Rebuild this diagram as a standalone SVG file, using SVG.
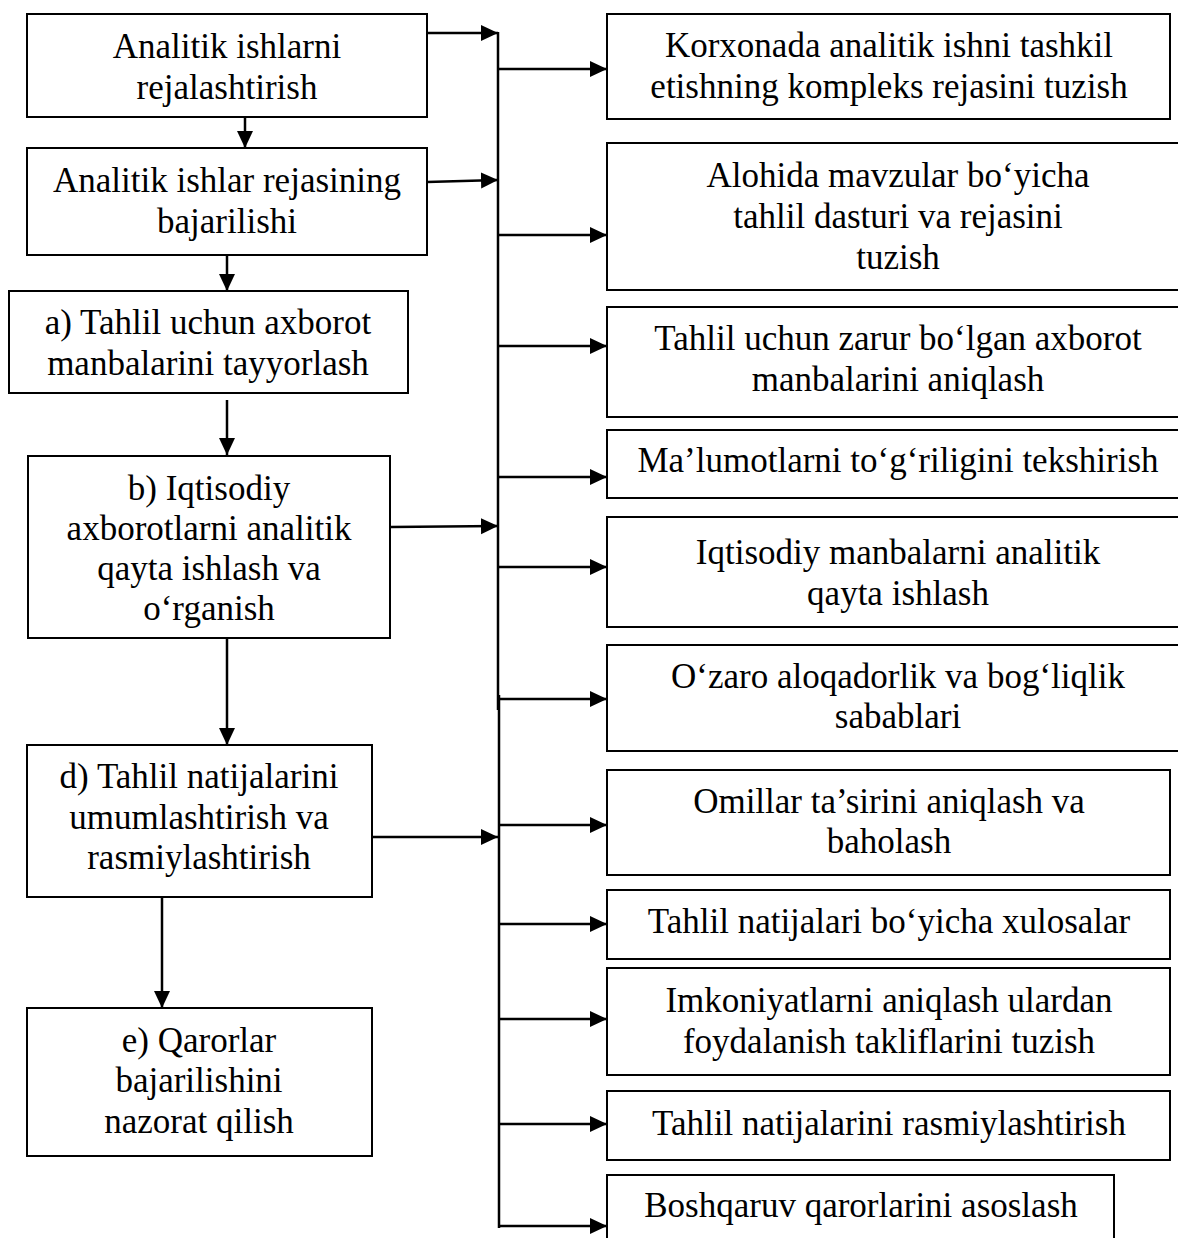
<svg xmlns="http://www.w3.org/2000/svg" width="1178" height="1238" viewBox="0 0 1178 1238">
<style>
.box{fill:#fff;stroke:#000;stroke-width:2}
.t{font-family:"Liberation Serif","Times New Roman",serif;font-size:35px;fill:#000;text-anchor:middle}
.c{fill:none;stroke:#000;stroke-width:2.5}
</style>
<defs>
<marker id="ah" markerUnits="userSpaceOnUse" markerWidth="18" markerHeight="18" refX="17" refY="8" orient="auto">
<path d="M0,0 L17,8 L0,16 z" fill="#000"/>
</marker>
</defs>
<rect width="1178" height="1238" fill="#fff"/>
<g id="left-a">
<rect class="box" x="27" y="14" width="400" height="103"/>
<text class="t" x="227" y="58">Analitik ishlarni</text>
<text class="t" x="227" y="99">rejalashtirish</text>
</g>
<g id="left-b">
<rect class="box" x="27" y="148" width="400" height="107"/>
<text class="t" x="227" y="192">Analitik ishlar rejasining</text>
<text class="t" x="227" y="233">bajarilishi</text>
</g>
<g id="left-c">
<rect class="box" x="9" y="291" width="399" height="102"/>
<text class="t" x="208" y="334">a) Tahlil uchun axborot</text>
<text class="t" x="208" y="375">manbalarini tayyorlash</text>
</g>
<g id="left-d">
<rect class="box" x="28" y="456" width="362" height="182"/>
<text class="t" x="209" y="500">b) Iqtisodiy</text>
<text class="t" x="209" y="540">axborotlarni analitik</text>
<text class="t" x="209" y="580">qayta ishlash va</text>
<text class="t" x="209" y="620">o‘rganish</text>
</g>
<g id="left-e">
<rect class="box" x="27" y="745" width="345" height="152"/>
<text class="t" x="199" y="788">d) Tahlil natijalarini</text>
<text class="t" x="199" y="829">umumlashtirish va</text>
<text class="t" x="199" y="869">rasmiylashtirish</text>
</g>
<g id="left-f">
<rect class="box" x="27" y="1008" width="345" height="148"/>
<text class="t" x="199" y="1052">e) Qarorlar</text>
<text class="t" x="199" y="1092">bajarilishini</text>
<text class="t" x="199" y="1133">nazorat qilish</text>
</g>
<g id="right-1">
<rect class="box" x="607" y="14" width="563" height="105"/>
<text class="t" x="889" y="57">Korxonada analitik ishni tashkil</text>
<text class="t" x="889" y="98">etishning kompleks rejasini tuzish</text>
</g>
<g id="right-2">
<rect class="box" x="607" y="143" width="572" height="147"/>
<text class="t" x="898" y="187">Alohida mavzular bo‘yicha</text>
<text class="t" x="898" y="228">tahlil dasturi va rejasini</text>
<text class="t" x="898" y="269">tuzish</text>
</g>
<g id="right-3">
<rect class="box" x="607" y="307" width="572" height="110"/>
<text class="t" x="898" y="350">Tahlil uchun zarur bo‘lgan axborot</text>
<text class="t" x="898" y="391">manbalarini aniqlash</text>
</g>
<g id="right-4">
<rect class="box" x="607" y="430" width="572" height="68"/>
<text class="t" x="898" y="472">Ma’lumotlarni to‘g‘riligini tekshirish</text>
</g>
<g id="right-5">
<rect class="box" x="607" y="517" width="572" height="110"/>
<text class="t" x="898" y="564">Iqtisodiy manbalarni analitik</text>
<text class="t" x="898" y="605">qayta ishlash</text>
</g>
<g id="right-6">
<rect class="box" x="607" y="645" width="572" height="106"/>
<text class="t" x="898" y="688">O‘zaro aloqadorlik va bog‘liqlik</text>
<text class="t" x="898" y="728">sabablari</text>
</g>
<g id="right-7">
<rect class="box" x="607" y="770" width="563" height="105"/>
<text class="t" x="889" y="813">Omillar ta’sirini aniqlash va</text>
<text class="t" x="889" y="853">baholash</text>
</g>
<g id="right-8">
<rect class="box" x="607" y="890" width="563" height="69"/>
<text class="t" x="889" y="933">Tahlil natijalari bo‘yicha xulosalar</text>
</g>
<g id="right-9">
<rect class="box" x="607" y="968" width="563" height="107"/>
<text class="t" x="889" y="1012">Imkoniyatlarni aniqlash ulardan</text>
<text class="t" x="889" y="1053">foydalanish takliflarini tuzish</text>
</g>
<g id="right-10">
<rect class="box" x="607" y="1091" width="563" height="69"/>
<text class="t" x="889" y="1135">Tahlil natijalarini rasmiylashtirish</text>
</g>
<g id="right-11">
<rect class="box" x="607" y="1175" width="507" height="80"/>
<text class="t" x="861" y="1217">Boshqaruv qarorlarini asoslash</text>
</g>
<g id="connectors">
<line class="c" x1="245" y1="117" x2="245" y2="148" marker-end="url(#ah)"/>
<line class="c" x1="227" y1="255" x2="227" y2="291" marker-end="url(#ah)"/>
<line class="c" x1="227" y1="400" x2="227" y2="455" marker-end="url(#ah)"/>
<line class="c" x1="227" y1="638" x2="227" y2="745" marker-end="url(#ah)"/>
<line class="c" x1="162" y1="897" x2="162" y2="1008" marker-end="url(#ah)"/>
<line class="c" x1="427" y1="33" x2="498" y2="33" marker-end="url(#ah)"/>
<line class="c" x1="427" y1="182" x2="498" y2="180" marker-end="url(#ah)"/>
<line class="c" x1="391" y1="527" x2="498" y2="526" marker-end="url(#ah)"/>
<line class="c" x1="372" y1="837" x2="498" y2="837" marker-end="url(#ah)"/>
<line class="c" x1="498" y1="32" x2="498" y2="710"/>
<line class="c" x1="499" y1="695" x2="499" y2="1228"/>
<line class="c" x1="498" y1="69" x2="607" y2="69" marker-end="url(#ah)"/>
<line class="c" x1="498" y1="235" x2="607" y2="235" marker-end="url(#ah)"/>
<line class="c" x1="498" y1="346" x2="607" y2="346" marker-end="url(#ah)"/>
<line class="c" x1="498" y1="477" x2="607" y2="477" marker-end="url(#ah)"/>
<line class="c" x1="498" y1="567" x2="607" y2="567" marker-end="url(#ah)"/>
<line class="c" x1="498" y1="699" x2="607" y2="699" marker-end="url(#ah)"/>
<line class="c" x1="499" y1="825" x2="607" y2="825" marker-end="url(#ah)"/>
<line class="c" x1="499" y1="924" x2="607" y2="924" marker-end="url(#ah)"/>
<line class="c" x1="499" y1="1019" x2="607" y2="1019" marker-end="url(#ah)"/>
<line class="c" x1="499" y1="1124" x2="607" y2="1124" marker-end="url(#ah)"/>
<line class="c" x1="499" y1="1226" x2="607" y2="1226" marker-end="url(#ah)"/>
</g>
</svg>
